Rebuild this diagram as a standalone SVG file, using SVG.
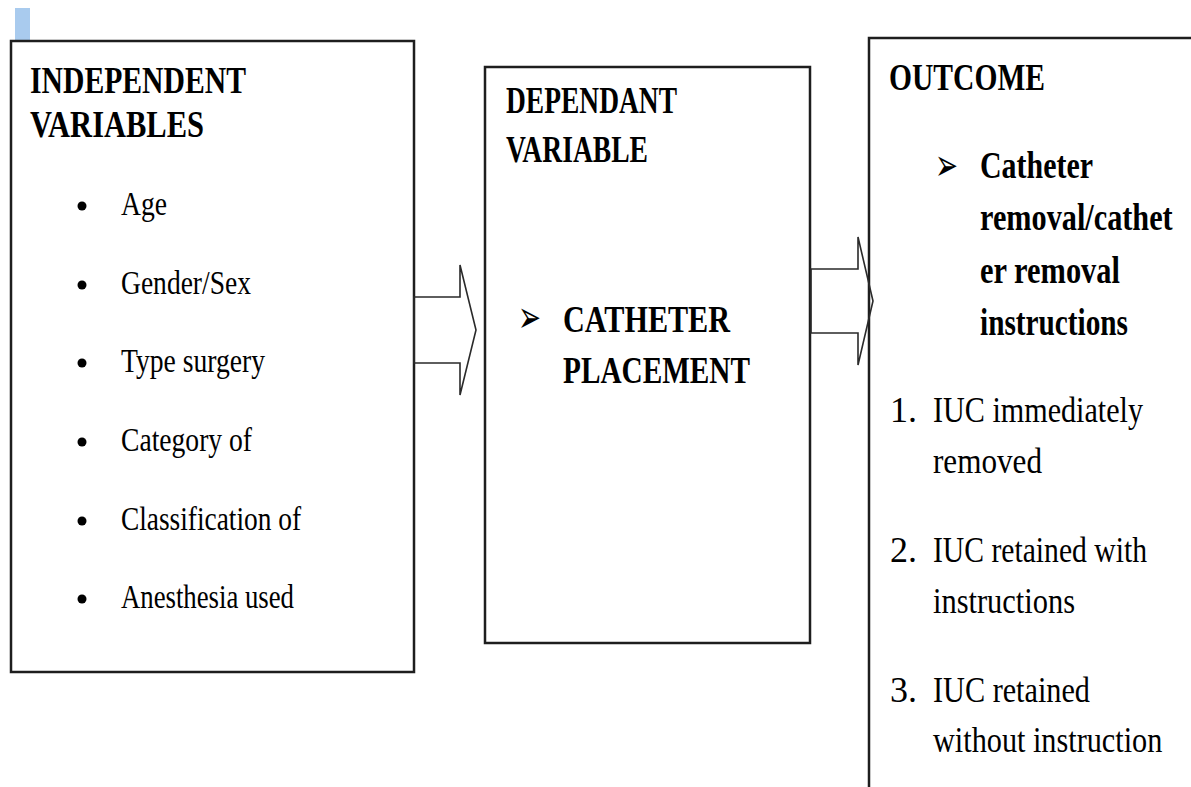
<svg xmlns="http://www.w3.org/2000/svg" width="1191" height="787" viewBox="0 0 1191 787">
<style>
.box{fill:#fff;stroke:#1e1e1e;stroke-width:2.5}
.open{fill:none;stroke:#1e1e1e;stroke-width:2.5}
.arr{fill:none;stroke:#2a2a2a;stroke-width:1.6;stroke-linejoin:miter}
.h{font-family:"Liberation Serif","Times New Roman",serif;font-weight:bold;font-size:38px;fill:#000}
.b{font-family:"Liberation Serif","Times New Roman",serif;font-weight:bold;font-size:37px;fill:#000}
.r{font-family:"Liberation Serif","Times New Roman",serif;font-size:33px;fill:#000}
.r2{font-family:"Liberation Serif","Times New Roman",serif;font-size:36px;fill:#000}
.sym{font-family:"DejaVu Sans",sans-serif;font-size:44px;fill:#000}
</style>
<rect x="15" y="8" width="15" height="33" fill="#a9cbee"/>
<g id="independent">
<rect class="box" x="11" y="41" width="403" height="631"/>
<text class="h" x="30" y="93" textLength="216" lengthAdjust="spacingAndGlyphs">INDEPENDENT</text>
<text class="h" x="30" y="137" textLength="174" lengthAdjust="spacingAndGlyphs">VARIABLES</text>
<g fill="#000">
<circle cx="82" cy="206" r="4.5"/>
<circle cx="82" cy="285" r="4.5"/>
<circle cx="82" cy="363" r="4.5"/>
<circle cx="82" cy="442" r="4.5"/>
<circle cx="82" cy="521" r="4.5"/>
<circle cx="82" cy="599" r="4.5"/>
</g>
<text class="r" x="121" y="215" textLength="46" lengthAdjust="spacingAndGlyphs">Age</text>
<text class="r" x="121" y="294" textLength="130" lengthAdjust="spacingAndGlyphs">Gender/Sex</text>
<text class="r" x="121" y="372" textLength="144" lengthAdjust="spacingAndGlyphs">Type surgery</text>
<text class="r" x="121" y="451" textLength="131" lengthAdjust="spacingAndGlyphs">Category of</text>
<text class="r" x="121" y="530" textLength="180" lengthAdjust="spacingAndGlyphs">Classification of</text>
<text class="r" x="121" y="608" textLength="173" lengthAdjust="spacingAndGlyphs">Anesthesia used</text>
</g>
<g id="dependant">
<rect class="box" x="485" y="67" width="325" height="576"/>
<text class="h" x="506" y="113" textLength="171" lengthAdjust="spacingAndGlyphs">DEPENDANT</text>
<text class="h" x="506" y="162" textLength="142" lengthAdjust="spacingAndGlyphs">VARIABLE</text>
<text class="sym" x="518" y="332" textLength="23" lengthAdjust="spacingAndGlyphs">➢</text>
<text class="b" x="563" y="332" textLength="167" lengthAdjust="spacingAndGlyphs">CATHETER</text>
<text class="b" x="563" y="383" textLength="187" lengthAdjust="spacingAndGlyphs">PLACEMENT</text>
</g>
<g id="outcome">
<path class="open" d="M1191,38 H869 V787"/>
<text class="h" x="889" y="90" textLength="156" lengthAdjust="spacingAndGlyphs">OUTCOME</text>
<text class="sym" x="935" y="180" textLength="23" lengthAdjust="spacingAndGlyphs">➢</text>
<text class="b" x="980" y="178" textLength="113" lengthAdjust="spacingAndGlyphs">Catheter</text>
<text class="b" transform="translate(980,230) scale(0.82,1)" x="0" y="0" textLength="235" lengthAdjust="spacingAndGlyphs">removal/cathet</text>
<text class="b" x="980" y="283" textLength="140" lengthAdjust="spacingAndGlyphs">er removal</text>
<text class="b" x="980" y="335" textLength="148" lengthAdjust="spacingAndGlyphs">instructions</text>
<text class="r2" x="890" y="422">1.</text>
<text class="r2" x="933" y="422" textLength="210" lengthAdjust="spacingAndGlyphs">IUC immediately</text>
<text class="r2" x="933" y="473" textLength="109" lengthAdjust="spacingAndGlyphs">removed</text>
<text class="r2" x="890" y="562">2.</text>
<text class="r2" x="933" y="562" textLength="214" lengthAdjust="spacingAndGlyphs">IUC retained with</text>
<text class="r2" x="933" y="613" textLength="142" lengthAdjust="spacingAndGlyphs">instructions</text>
<text class="r2" x="890" y="702">3.</text>
<text class="r2" x="933" y="702" textLength="157" lengthAdjust="spacingAndGlyphs">IUC retained</text>
<text class="r2" transform="translate(933,752) scale(0.84,1)" x="0" y="0" textLength="273" lengthAdjust="spacingAndGlyphs">without instruction</text>
</g>
<g id="connectors">
<polygon class="arr" points="414,297 460,297 460,265 476,330 460,395 460,363 414,363"/>
<polygon class="arr" points="811,269 858,269 858,237 873,301 858,365 858,333 811,333"/>
</g>
</svg>
